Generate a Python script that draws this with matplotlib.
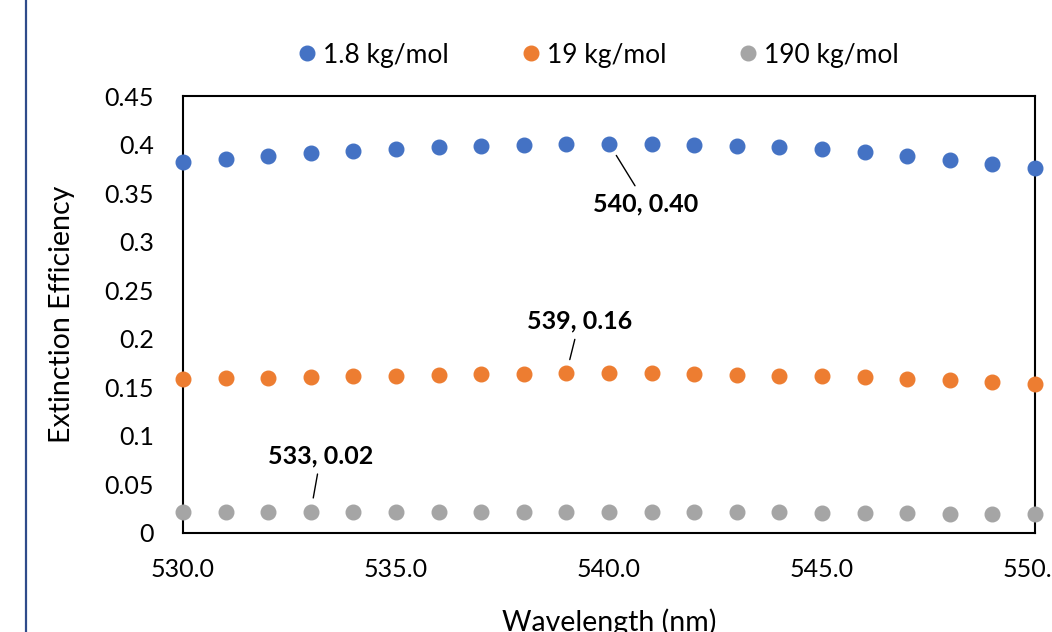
import matplotlib
matplotlib.use("Agg")
import matplotlib.pyplot as plt
from matplotlib.lines import Line2D

plt.rcParams['font.family'] = ['Lato', 'DejaVu Sans']

wavelength = [530, 531, 532, 533, 534, 535, 536, 537, 538, 539, 540,
              541, 542, 543, 544, 545, 546, 547, 548, 549, 550]
eff_1_8 = [0.382, 0.385, 0.388, 0.391, 0.393, 0.395, 0.397, 0.399, 0.400, 0.401, 0.401,
           0.401, 0.400, 0.399, 0.397, 0.395, 0.392, 0.388, 0.384, 0.380, 0.376]
eff_19 = [0.1586, 0.1596, 0.160, 0.1606, 0.1617, 0.162, 0.1627, 0.1637, 0.164, 0.1647, 0.1647,
          0.1647, 0.1637, 0.163, 0.162, 0.1617, 0.1606, 0.159, 0.1576, 0.1555, 0.1534]
eff_190 = [0.022, 0.022, 0.022, 0.022, 0.022, 0.022, 0.022, 0.022, 0.022, 0.022, 0.022,
           0.022, 0.022, 0.0215, 0.0215, 0.021, 0.021, 0.0205, 0.020, 0.020, 0.020]
series_names = ['1.8 kg/mol', '19 kg/mol', '190 kg/mol']
colors = ['#4472C4', '#ED7D31', '#A5A5A5']
x_ticks = [530.0, 535.0, 540.0, 545.0, 550.0]
y_ticks = [0, 0.05, 0.1, 0.15, 0.2, 0.25, 0.3, 0.35, 0.4, 0.45]
y_tick_labels = ['0', '0.05', '0.1', '0.15', '0.2', '0.25', '0.3', '0.35', '0.4', '0.45']
# annotations: (series index, point index, text)
annotations = [(0, 10, '540, 0.40'), (1, 9, '539, 0.16'), (2, 3, '533, 0.02')]

W, H = 1052, 632
fig = plt.figure(figsize=(W / 100, H / 100), dpi=100)
ax = fig.add_axes([183 / W, 1 - 533 / H, (1035 - 183) / W, (533 - 96) / H])

all_series = [eff_1_8, eff_19, eff_190]
for vals, c, name in zip(all_series, colors, series_names):
    ax.plot(wavelength, vals, linestyle='none', marker='o', markersize=10.5,
            color=c, label=name, clip_on=False, zorder=3)

ax.set_xlim(530, 550)
ax.set_ylim(0, 0.45)
ax.set_xticks(x_ticks)
ax.set_xticklabels([f'{v:.1f}' for v in x_ticks])
ax.set_yticks(y_ticks)
ax.set_yticklabels(y_tick_labels)
ax.tick_params(length=0, labelsize=18)
ax.tick_params(axis='x', pad=18)
ax.tick_params(axis='y', pad=21)
for s in ax.spines.values():
    s.set_linewidth(1.5)
    s.set_color('black')

ax.set_ylabel('Extinction Efficiency', fontsize=20.5)
ax.yaxis.set_label_coords(-(183 - 75) / (1035 - 183), 0.5)
ax.set_xlabel('Wavelength (nm)', fontsize=20.5)
ax.xaxis.set_label_coords(0.5, -(608 - 533) / (533 - 96))

# annotation offsets in pixels (text center relative to point)
offsets = [(37, -60), (13, 52), (10, 56)]
for (si, pi, txt), (dx, dy) in zip(annotations, offsets):
    xv = wavelength[pi]
    yv = all_series[si][pi]
    ax.annotate(txt, xy=(xv, yv), xytext=(dx * 0.72, dy * 0.72), textcoords='offset points',
                ha='center', va='center', fontsize=18, fontweight='bold',
                arrowprops=dict(arrowstyle='-', color='black', lw=1,
                                shrinkA=3, shrinkB=10), zorder=5)

handles = [Line2D([], [], linestyle='none', marker='o', markersize=10.5, color=c) for c in colors]
fig.legend(handles, series_names, loc='center', bbox_to_anchor=(595 / W, 1 - 55 / H),
           ncol=3, frameon=False, fontsize=19, handletextpad=0.0, columnspacing=2.5,
           handlelength=1.2)

fig.add_artist(Line2D([26 / W, 26 / W], [0, 1], color='#2F4B8A', lw=1.6,
                      transform=fig.transFigure))

fig.savefig('out.png', dpi=100, facecolor='white')
